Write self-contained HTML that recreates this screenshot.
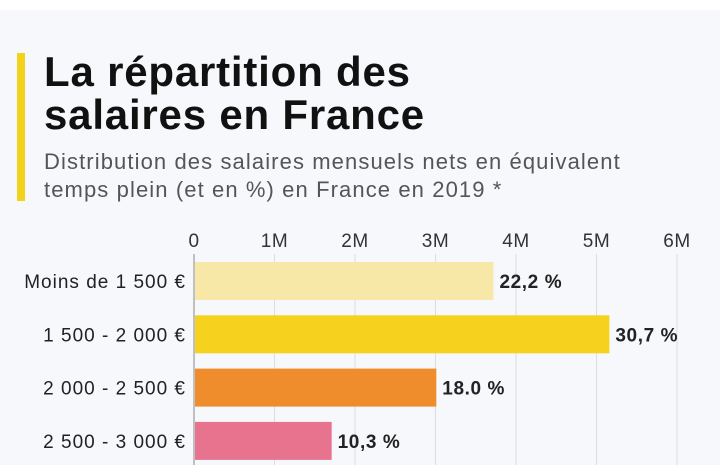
<!DOCTYPE html>
<html><head><meta charset="utf-8"><style>
body{margin:0;width:720px;height:465px;overflow:hidden;background:#fff;font-family:"Liberation Sans",sans-serif}
#card{position:absolute;left:0;top:10px;width:720px;height:455px;background:#f6f8fb}
#accent{position:absolute;left:17px;top:53px;width:8px;height:148px;background:#f2d21b}
h1{position:absolute;left:44px;top:50px;margin:0;font-size:42px;line-height:43px;font-weight:bold;color:#111;letter-spacing:0.8px}
#sub{position:absolute;left:44px;top:148px;font-size:22px;line-height:28px;color:#555;letter-spacing:1.1px}
svg{position:absolute;left:0;top:0}
</style></head><body>
<div id="card"></div>
<div id="accent"></div>
<h1>La répartition des<br>salaires en France</h1>
<div id="sub">Distribution des salaires mensuels nets en équivalent<br>temps plein (et en %) en France en 2019 *</div>
<svg id="chart" width="720" height="465"></svg>
<script>
const categories=["Moins de 1 500 €","1 500 - 2 000 €","2 000 - 2 500 €","2 500 - 3 000 €"];
const values=[3.72,5.16,3.01,1.71];
const valueLabels=["22,2 %","30,7 %","18.0 %","10,3 %"];
const ticks=[0,1,2,3,4,5,6];
const tickLabels=["0","1M","2M","3M","4M","5M","6M"];
const colors=["#f7e8a8","#f6d21e","#ef8c2c","#e8738f"];
const svg=document.getElementById('chart');const NS="http://www.w3.org/2000/svg";
const x0=194,x1=677,xs=v=>x0+(x1-x0)*v/6;
const ys=i=>262+i*53.3,bh=38;
function mk(t,a){const e=document.createElementNS(NS,t);for(const k in a)e.setAttribute(k,a[k]);svg.appendChild(e);return e;}
ticks.forEach((t,i)=>{
 const g=mk('line',{x1:xs(t),x2:xs(t),y1:254,y2:465,stroke:i==0?'#888':'#ddd','stroke-width':1});
 
 
 const l=mk('text',{x:xs(t),y:247,'text-anchor':'middle','font-size':19,fill:'#333','letter-spacing':0.5});
 l.textContent=tickLabels[i];
 
 
});
categories.forEach((c,i)=>{
 const r=mk('rect',{x:x0+1,y:ys(i),width:xs(values[i])-x0-1,height:bh,fill:colors[i]});
 
 
 const t=mk('text',{x:186,y:ys(i)+bh/2+7,'text-anchor':'end','font-size':19,fill:'#222','letter-spacing':1});
 t.textContent=c;
 
 
 const v=mk('text',{x:xs(values[i])+6,y:ys(i)+bh/2+7,'font-size':19,'font-weight':'bold',fill:'#222','letter-spacing':0.6});
 v.textContent=valueLabels[i];
 
 
});
</script>
</body></html>
